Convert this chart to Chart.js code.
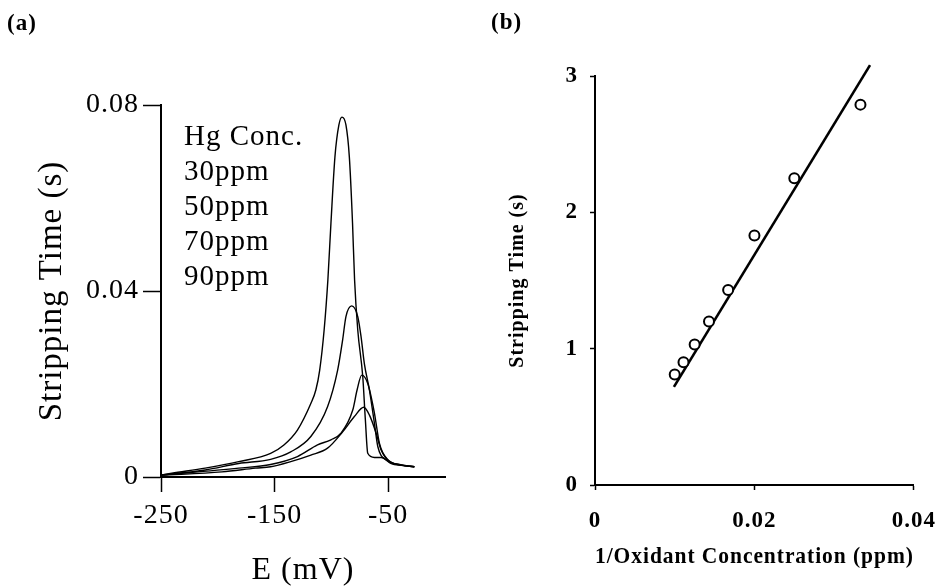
<!DOCTYPE html>
<html>
<head>
<meta charset="utf-8">
<script src="https://cdn.jsdelivr.net/npm/chart.js@4.4.1/dist/chart.umd.min.js"></script>
<style>
  html, body { margin: 0; padding: 0; background: #fff; }
  #wrap { position: relative; width: 951px; height: 587px; }
  #wrap canvas { position: absolute; left: 0; top: 0; }
</style>
</head>
<body>
<div id="wrap">
  <canvas id="chartA" width="951" height="587"></canvas>
  <canvas id="chartB" width="951" height="587"></canvas>
</div>
<script>
// ── (a) stripping peaks: E (mV) vs stripping time (s), one curve per Hg conc. ──
const E_30 = [-250, -240.5, -211.1, -181.6, -153.5, -141.8, -129.9, -118.1, -113.7, -110.3, -106.4, -103.1, -100.4, -96.9, -93.4, -90.7, -87.2, -84.2, -81.4, -79.6, -76.8, -72.4, -70.1, -68.0, -62.1, -56.2, -47.3, -38.5, -27.0];
const T_30 = [0.0004, 0.0008, 0.0019, 0.0033, 0.0051, 0.0069, 0.0101, 0.0158, 0.0187, 0.0230, 0.0316, 0.0424, 0.0546, 0.0688, 0.0757, 0.0774, 0.0757, 0.0688, 0.0546, 0.0424, 0.0316, 0.0216, 0.0123, 0.0051, 0.0042, 0.0042, 0.0029, 0.0025, 0.0022];

const E_50 = [-250, -211.1, -181.6, -153.5, -135.8, -118.1, -103.4, -94.5, -90.1, -87.2, -82.1, -76.8, -73.9, -71.0, -66.5, -62.1, -59.1, -51.8, -40.0, -27.0];
const T_50 = [0.0004, 0.0015, 0.0029, 0.0038, 0.0054, 0.0087, 0.0151, 0.0230, 0.0295, 0.0345, 0.0368, 0.0345, 0.0302, 0.0244, 0.0187, 0.0115, 0.0065, 0.0037, 0.0026, 0.0022];

const E_70 = [-250, -181.6, -153.5, -129.9, -112.2, -100.4, -91.6, -81.2, -77.4, -73.3, -68.0, -62.1, -57.7, -50.3, -38.5, -27.0];
const T_70 = [0.0004, 0.0019, 0.0027, 0.0044, 0.0069, 0.0080, 0.0094, 0.0144, 0.0187, 0.0219, 0.0201, 0.0137, 0.0072, 0.0037, 0.0026, 0.0022];

const E_90 = [-250, -196.3, -166.8, -153.5, -135.8, -118.1, -103.4, -90.1, -79.8, -71.5, -66.5, -60.6, -56.2, -48.8, -38.5, -27.0];
const T_90 = [0.0004, 0.0011, 0.0019, 0.0022, 0.0033, 0.0047, 0.0062, 0.0097, 0.0130, 0.0150, 0.0133, 0.0094, 0.0058, 0.0033, 0.0026, 0.0022];

const A_X_TICKS  = [-250, -150, -50];
const A_X_LABELS = ['-250', '-150', '-50'];
const A_Y_TICKS  = [0, 0.04, 0.08];
const A_Y_LABELS = ['0', '0.04', '0.08'];
const LEGEND_LINES = ['Hg Conc.', '30ppm', '50ppm', '70ppm', '90ppm'];

// ── (b) stripping time vs 1/oxidant concentration ──
const INV_OX  = [0.0100, 0.0111, 0.0125, 0.0143, 0.0167, 0.0200, 0.0250, 0.0333];
const STRIP_T = [0.81, 0.90, 1.03, 1.20, 1.43, 1.83, 2.25, 2.79];
const FIT_X = [0.0099, 0.0345];
const FIT_Y = [0.72, 3.08];

const B_X_TICKS  = [0, 0.02, 0.04];
const B_X_LABELS = ['0', '0.02', '0.04'];
const B_Y_TICKS  = [0, 1, 2, 3];
const B_Y_LABELS = ['0', '1', '2', '3'];

const SERIF = "'Liberation Serif', 'Times New Roman', serif";

// ── Helpers ──
function toPoints(xs, ys) {
    return xs.map((x, i) => ({ x, y: ys[i] }));
}

function axis(o) {
    return {
        type: 'linear',
        min: o.min,
        max: o.max,
        afterBuildTicks: s => { s.ticks = o.ticks.map(v => ({ value: v })); },
        afterFit: s => {
            if (s.isHorizontal()) s.height = o.size;
            else s.width = o.size;
        },
        grid: {
            drawOnChartArea: false,
            drawTicks: true,
            tickLength: o.tickLength,
            tickWidth: 1.5,
            tickColor: '#000'
        },
        border: { display: true, color: '#000', width: 2 },
        ticks: {
            color: '#000',
            padding: o.pad,
            font: o.tickFont,
            autoSkip: false,
            maxRotation: 0,
            callback: v => {
                const i = o.ticks.indexOf(v);
                return i >= 0 ? o.labels[i] : '';
            }
        },
        title: {
            display: true,
            text: o.title,
            color: '#000',
            font: o.titleFont,
            padding: o.titlePad
        }
    };
}

// a little letter spacing widens the serif text like the scanned figure
function spacing(px) {
    return {
        id: 'spacing',
        beforeDraw(chart) { chart.ctx.letterSpacing = px + 'px'; }
    };
}

function curve(xs, ys) {
    return {
        data: toPoints(xs, ys),
        showLine: true,
        borderColor: '#000',
        borderWidth: 1.4,
        pointRadius: 0,
        cubicInterpolationMode: 'monotone'
    };
}

// ── Chart (a) ──
const notesA = {
    id: 'notesA',
    afterDraw(chart) {
        const ctx = chart.ctx;
        ctx.save();
        ctx.fillStyle = '#000';
        ctx.textBaseline = 'alphabetic';
        ctx.textAlign = 'left';
        ctx.font = '29px ' + SERIF;
        LEGEND_LINES.forEach((t, i) => ctx.fillText(t, 184, 145 + i * 35));
        ctx.font = 'bold 23px ' + SERIF;
        ctx.fillText('(a)', 7, 30);
        ctx.restore();
    }
};

new Chart(document.getElementById('chartA'), {
    type: 'scatter',
    data: {
        datasets: [curve(E_30, T_30), curve(E_50, T_50), curve(E_70, T_70), curve(E_90, T_90)]
    },
    options: {
        responsive: false,
        animation: false,
        devicePixelRatio: 1,
        layout: { padding: { left: 11, top: 105, right: 506, bottom: 0 } },
        plugins: { legend: { display: false }, tooltip: { enabled: false } },
        scales: {
            x: axis({
                min: -250, max: 0, ticks: A_X_TICKS, labels: A_X_LABELS,
                size: 110, tickLength: 15, pad: 7,
                tickFont: { family: SERIF, size: 28 },
                title: 'E (mV)',
                titleFont: { family: SERIF, size: 32, lineHeight: 1 },
                titlePad: { top: 0, bottom: 0 }
            }),
            y: axis({
                min: 0, max: 0.08, ticks: A_Y_TICKS, labels: A_Y_LABELS,
                size: 150, tickLength: 18, pad: 4,
                tickFont: { family: SERIF, size: 28 },
                title: 'Stripping Time (s)',
                titleFont: { family: SERIF, size: 33, lineHeight: 1 },
                titlePad: { top: 24.5, bottom: 0 }
            })
        }
    },
    plugins: [spacing(1), notesA]
});

// ── Chart (b) ──
const notesB = {
    id: 'notesB',
    afterDraw(chart) {
        const ctx = chart.ctx;
        ctx.save();
        ctx.fillStyle = '#000';
        ctx.textBaseline = 'alphabetic';
        ctx.textAlign = 'left';
        ctx.font = 'bold 23px ' + SERIF;
        ctx.fillText('(b)', 491, 29);
        ctx.restore();
    }
};

new Chart(document.getElementById('chartB'), {
    type: 'scatter',
    data: {
        datasets: [
            {
                data: toPoints(INV_OX, STRIP_T),
                pointStyle: 'circle',
                pointRadius: 5,
                pointBorderWidth: 2,
                pointBackgroundColor: '#fff',
                pointBorderColor: '#000'
            },
            {
                data: toPoints(FIT_X, FIT_Y),
                showLine: true,
                borderColor: '#000',
                borderWidth: 2.6,
                pointRadius: 0,
                clip: false
            }
        ]
    },
    options: {
        responsive: false,
        animation: false,
        devicePixelRatio: 1,
        layout: { padding: { left: 495, top: 76, right: 24, bottom: 0 } },
        plugins: { legend: { display: false }, tooltip: { enabled: false } },
        scales: {
            x: axis({
                min: 0, max: 0.04, ticks: B_X_TICKS, labels: B_X_LABELS,
                size: 102, tickLength: 5, pad: 17,
                tickFont: { family: SERIF, size: 23, weight: 'bold' },
                title: '1/Oxidant Concentration (ppm)',
                titleFont: { family: SERIF, size: 23, weight: 'bold', lineHeight: 1 },
                titlePad: { top: 0, bottom: 18 }
            }),
            y: axis({
                min: 0, max: 3, ticks: B_Y_TICKS, labels: B_Y_LABELS,
                size: 100, tickLength: 5, pad: 12,
                tickFont: { family: SERIF, size: 23, weight: 'bold' },
                title: 'Stripping Time (s)',
                titleFont: { family: SERIF, size: 20, weight: 'bold', lineHeight: 1 },
                titlePad: { top: 12.5, bottom: 0 }
            })
        }
    },
    plugins: [spacing(1), notesB]
});
</script>
</body>
</html>
